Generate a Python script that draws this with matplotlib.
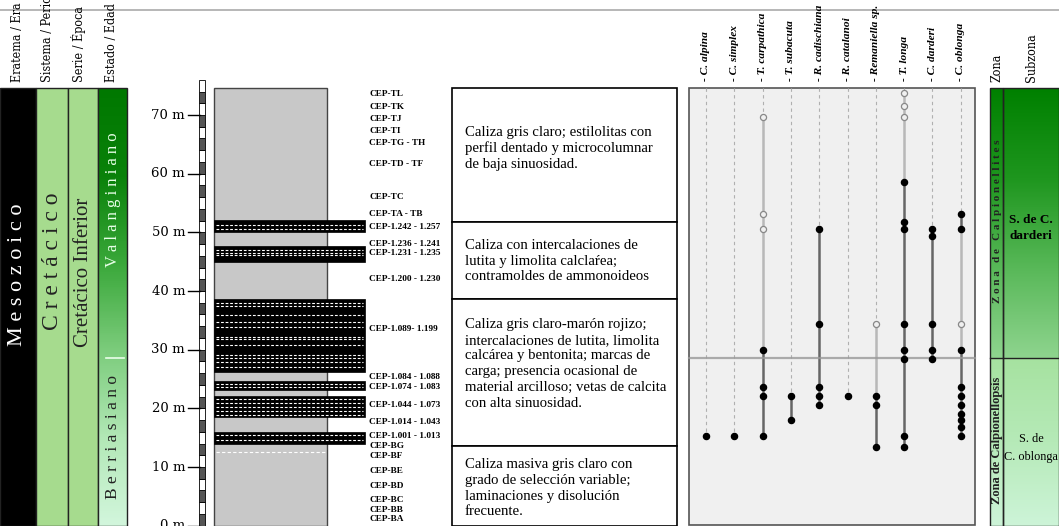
import numpy as np
import matplotlib
matplotlib.use('Agg')
import matplotlib.pyplot as plt
from matplotlib import font_manager
from matplotlib.colors import LinearSegmentedColormap
from matplotlib.patches import Rectangle

# ---- data ----
depth_ticks = [0, 10, 20, 30, 40, 50, 60, 70]
section_top = 74.6
stage_boundary = 28.6

sample_labels = ['CEP-TL', 'CEP-TK', 'CEP-TJ', 'CEP-TI', 'CEP-TG - TH', 'CEP-TD - TF',
                 'CEP-TC', 'CEP-TA - TB', 'CEP-1.242 - 1.257', 'CEP-1.236 - 1.241',
                 'CEP-1.231 - 1.235', 'CEP-1.200 - 1.230', 'CEP-1.089- 1.199',
                 'CEP-1.084 - 1.088', 'CEP-1.074 - 1.083', 'CEP-1.044 - 1.073',
                 'CEP-1.014 - 1.043', 'CEP-1.001 - 1.013', 'CEP-BG', 'CEP-BF',
                 'CEP-BE', 'CEP-BD', 'CEP-BC', 'CEP-BB', 'CEP-BA']
sample_depths = [73.6, 71.3, 69.4, 67.3, 65.3, 61.6, 56.1, 53.2, 50.9, 48.0, 46.5, 42.0,
                 33.6, 25.4, 23.7, 20.6, 17.6, 15.3, 13.6, 11.9, 9.3, 6.8, 4.4, 2.7, 1.1]

# shale / marl interbeds (bottom, top) and their dashed laminae
bands = [(50.0, 52.1), (44.9, 47.7), (26.2, 38.6), (23.1, 24.7), (18.5, 22.1), (13.9, 16.0)]
band_rows = [[51.2, 50.5], [47.0, 46.5, 46.1],
             [37.95, 37.45, 35.9, 34.7, 33.9, 32.2, 31.8, 30.8, 29.1, 28.6, 27.9, 27.1],
             [24.2, 23.6], [21.6, 20.9, 20.2, 19.5, 18.9], [15.4, 14.6]]
contact_dash = 12.5

unit_tops = [74.6, 51.7, 38.6, 13.5]
unit_bottoms = [51.7, 38.6, 13.5, 0.0]
unit_texts = [
    'Caliza gris claro; estilolitas con\nperfil dentado y microcolumnar\nde baja sinuosidad.',
    'Caliza con intercalaciones de\nlutita y limolita calclaŕea;\ncontramoldes de ammonoideos',
    'Caliza gris claro-marón rojizo;\nintercalaciones de lutita, limolita\ncalcárea y bentonita; marcas de\n'
    'carga; presencia ocasional de\nmaterial arcilloso; vetas de calcita\ncon alta sinuosidad.',
    'Caliza masiva gris claro con\ngrado de selección variable;\nlaminaciones y disolución\nfrecuente.',
]
unit_text_y = [64.3, 45.1, 27.6, 6.4]

species = ['C. alpina', 'C. simplex', 'T. carpathica', 'T. subacuta', 'R. cadischiana',
           'R. catalanoi', 'Remaniella sp.', 'T. longa', 'C. darderi', 'C. oblonga']
filled_pts = [
    [15.3],
    [15.3],
    [30.0, 23.7, 22.1, 15.3],
    [22.1, 18.0],
    [50.5, 34.4, 23.7, 22.1, 20.5],
    [22.1],
    [22.1, 20.5, 13.4],
    [58.5, 51.7, 50.5, 34.4, 30.0, 28.4, 15.3, 13.4],
    [50.5, 49.4, 34.4, 30.0, 28.4],
    [53.2, 50.5, 30.0, 23.7, 22.1, 20.5, 19.0, 18.0, 16.9, 15.3],
]
open_pts = [[], [], [69.6, 53.2, 50.5], [], [], [], [34.4], [73.7, 71.5, 69.6], [], [34.4]]
light_ranges = [[], [], [(69.6, 30.0)], [], [], [], [(34.4, 22.1)], [(73.7, 58.5)], [],
                [(50.5, 30.0)]]
dark_ranges = [[], [], [(30.0, 15.3)], [(22.1, 18.0)], [(50.5, 20.5)], [], [(22.1, 13.4)],
               [(58.5, 13.4)], [(50.5, 28.4)], [(53.2, 50.5), (30.0, 15.3)]]

SERIF = 'Liberation Serif'

# narrow face for the column headers when one is installed
narrow = None
for f in font_manager.fontManager.ttflist:
    if 'Narrow' in f.name or 'Condensed' in f.name or f.stretch in ('condensed', 'semi-condensed'):
        narrow = dict(family=f.name, fontstretch=f.stretch)
        if 'Serif' in f.name:
            break
if narrow:
    HEAD = dict(fontsize=9, **narrow)
else:
    HEAD = dict(fontsize=8.8, family=SERIF)

# pixel row -> metres (layout helper)
def py(p):
    return (525.7 - p) / 5.867

fig = plt.figure(figsize=(10.59, 5.26), dpi=100)
ax = fig.add_axes([0, 0, 1, 1])
ax.axis('off')

# top rule
ax.plot([0, 1059], [py(10), py(10)], color='#aaaaaa', lw=1.2)

# ---- chronostratigraphy ----
head_y = py(82)
for x, lab in zip([18, 48, 78, 111], ['Eratema / Era', 'Sistema / Periodo', 'Serie / Época', 'Estado / Edad']):
    ax.text(x, head_y, lab, rotation=90, ha='center', va='bottom', **HEAD)

ax.add_patch(Rectangle((0, 0), 36, section_top, fc='black', ec='#222222', lw=1))
ax.add_patch(Rectangle((36, 0), 32, section_top, fc='#a6db8e', ec='#222222', lw=1))
ax.add_patch(Rectangle((68, 0), 30, section_top, fc='#a6db8e', ec='#222222', lw=1))
stage_cmap = LinearSegmentedColormap.from_list(
    'stage', ['#d2f6dc', '#b2e8b6', '#7ccc7c', '#3aa83a', '#0a820a', '#007800'])
ax.imshow(np.linspace(0, 1, 200).reshape(-1, 1), extent=[98, 127, 0, section_top],
          cmap=stage_cmap, aspect='auto', origin='lower', zorder=1)
ax.add_patch(Rectangle((98, 0), 29, section_top, fc='none', ec='#222222', lw=1, zorder=2))
ax.plot([106, 124], [stage_boundary, stage_boundary], color='#eaffea', lw=1.2, zorder=3)

ax.text(18, py(275), 'M e s o z o i c o', rotation=90, ha='center', va='center',
        color='white', fontsize=16, family=SERIF)
ax.text(52, py(261), 'C r e t á c i c o', rotation=90, ha='center', va='center',
        color='#222222', fontsize=17, family=SERIF)
ax.text(83, py(272), 'Cretácico Inferior', rotation=90, ha='center', va='center',
        color='#222222', fontsize=15, family=SERIF)
ax.text(113, py(200), 'V a l a n g i n i a n o', rotation=90, ha='center', va='center',
        color='#e8ffe8', fontsize=12, family=SERIF, zorder=4)
ax.text(113, py(437), 'B e r r i a s i a n o', rotation=90, ha='center', va='center',
        color='#222222', fontsize=12.5, family=SERIF, zorder=4)

# ---- depth scale ----
for d in depth_ticks:
    ax.plot([188, 200], [d, d], color='black', lw=1)
    ax.text(185, d, f'{d} m', ha='right', va='center', fontsize=9.5, family='DejaVu Serif')
for k in range(0, 76, 2):
    ax.add_patch(Rectangle((199, k), 6, 2, fc='#555555' if k % 4 == 0 else 'white',
                           ec='black', lw=0.6))

# ---- lithology ----
ax.add_patch(Rectangle((214, 0), 113, section_top, fc='#c8c8c8', ec='#444444', lw=1))
for (b0, b1), rows in zip(bands, band_rows):
    ax.add_patch(Rectangle((214, b0), 151, b1 - b0, fc='black', ec='black', lw=0.5, zorder=3))
    for r in rows:
        ax.plot([216, 363], [r, r], color='white', lw=0.8, dashes=(2.5, 1.6), zorder=4)
ax.plot([216, 325], [contact_dash, contact_dash], color='white', lw=0.8, dashes=(3, 2))

for lab, d in zip(sample_labels, sample_depths):
    ax.text(369, d, lab, ha='left', va='center', fontweight='bold', fontsize=6.7, family=SERIF)

# ---- descriptions ----
for top, bot, txt, ty in zip(unit_tops, unit_bottoms, unit_texts, unit_text_y):
    ax.add_patch(Rectangle((452, bot), 225, top - bot, fc='white', ec='black', lw=1.2))
    ax.text(465, ty, txt, ha='left', va='center', fontsize=10.6, family=SERIF, linespacing=1.27)

# ---- range chart ----
ax.add_patch(Rectangle((689, 0.1), 286, section_top - 0.1, fc='#f0f0f0', ec='#555555', lw=1.2))
xs = [706 + 28.3 * i for i in range(len(species))]
for x, name, fp, op, lr, dr in zip(xs, species, filled_pts, open_pts, light_ranges, dark_ranges):
    ax.text(x, py(81), '- ' + name, rotation=90, ha='center', va='bottom', fontsize=8.2,
            fontweight='bold', fontstyle='italic', family=SERIF)
    first = max(fp + op)
    ax.plot([x, x], [section_top, first], color='#b0b0b0', lw=0.8, dashes=(3, 3))
    for a, b in lr:
        ax.plot([x, x], [a, b], color='#b8b8b8', lw=1.8, zorder=3)
    for a, b in dr:
        ax.plot([x, x], [a, b], color='#666666', lw=1.8, zorder=3)
    ax.plot([x] * len(fp), fp, 'o', color='black', ms=4.4, zorder=5)
    if op:
        ax.plot([x] * len(op), op, 'o', mfc='#f0f0f0', mec='#888888', mew=0.9, ms=4.4, zorder=5)
ax.plot([689, 975], [stage_boundary, stage_boundary], color='#999999', lw=1.6, alpha=0.8, zorder=4)

# ---- biozones ----
ax.text(997, py(82), 'Zona', rotation=90, ha='center', va='bottom', **HEAD)
ax.text(1031, py(82), 'Subzona', rotation=90, ha='center', va='bottom', **HEAD)
upper_cmap = LinearSegmentedColormap.from_list('up', ['#8ed48e', '#58b858', '#1e961e', '#008000'])
lower_cmap = LinearSegmentedColormap.from_list('low', ['#cdf4d8', '#b6eab8', '#a6e2a0'])
for x0, x1 in [(990, 1003), (1003, 1059)]:
    ax.imshow(np.linspace(0, 1, 200).reshape(-1, 1), extent=[x0, x1, stage_boundary, section_top],
              cmap=upper_cmap, aspect='auto', origin='lower', zorder=1)
    ax.imshow(np.linspace(0, 1, 200).reshape(-1, 1), extent=[x0, x1, 0, stage_boundary],
              cmap=lower_cmap, aspect='auto', origin='lower', zorder=1)
    ax.add_patch(Rectangle((x0, 0), x1 - x0, section_top, fc='none', ec='#222222', lw=1, zorder=2))
ax.plot([990, 1059], [stage_boundary, stage_boundary], color='#222222', lw=1, zorder=2)
ax.text(997, py(221), 'Z o n a   d e   C a l p i o n e l l i t e s', rotation=90, ha='center',
        va='center', fontsize=8, fontweight='bold', family=SERIF, color='#222222', zorder=3)
ax.text(997, py(440), 'Zona de Calpionellopsis', rotation=90, ha='center', va='center',
        fontsize=9, fontweight='bold', family=SERIF, color='#222222', zorder=3)
ax.text(1031, py(228), 'S. de C.\ndarderi', ha='center', va='center', fontsize=9.5,
        fontweight='bold', family=SERIF, linespacing=1.4, zorder=3)
ax.text(1031, py(448), 'S. de\nC. oblonga', ha='center', va='center', fontsize=8.8,
        linespacing=1.6, family=SERIF, zorder=3)

ax.set_xlim(0, 1059)
ax.set_ylim(py(526), py(0))
fig.savefig('out.png', dpi=100)
